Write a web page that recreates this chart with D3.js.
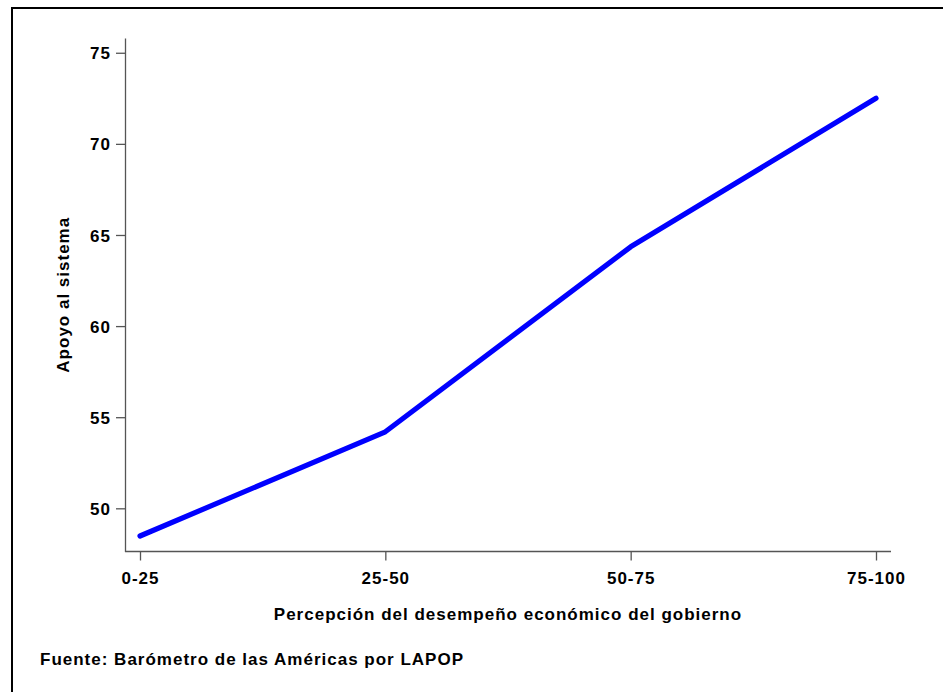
<!DOCTYPE html>
<html>
<head>
<meta charset="utf-8">
<script src="https://cdn.jsdelivr.net/npm/d3@7"></script>
<style>
  html, body { margin: 0; padding: 0; background: #fff; }
  text { font-family: "Liberation Sans", Arial, Helvetica, sans-serif; font-weight: bold; fill: #000; }
</style>
</head>
<body>
<svg id="chart" width="943" height="692"></svg>
<script>
const categories = ["0-25", "25-50", "50-75", "75-100"];
const values = [48.48, 54.2, 64.35, 72.5];
const yTicks = [50, 55, 60, 65, 70, 75];
const xTitle = "Percepción del desempeño económico del gobierno";
const yTitle = "Apoyo al sistema";
const source = "Fuente: Barómetro de las Américas por LAPOP";

const svg = d3.select("#chart");

// outer frame (top and left edges visible)
svg.append("line").attr("x1", 12).attr("x2", 943).attr("y1", 8).attr("y2", 8)
  .attr("stroke", "#000").attr("stroke-width", 2);
svg.append("line").attr("x1", 12).attr("x2", 12).attr("y1", 7).attr("y2", 692)
  .attr("stroke", "#000").attr("stroke-width", 2);

const mLeft = 125, mRight = 891, mTop = 38, mBottom = 551.5;

const x = d3.scalePoint().domain(categories).range([140, 876]);
const y = d3.scaleLinear().domain([47.63, 75.81]).range([mBottom, mTop]);

const axisColor = "#555";
const fs = 17;

// y axis
const gy = svg.append("g").attr("transform", `translate(${mLeft},0)`)
  .call(d3.axisLeft(y).tickValues(yTicks).tickSize(9).tickPadding(5).tickSizeOuter(0));
gy.select(".domain").attr("stroke", axisColor).attr("stroke-width", 1.3);
gy.selectAll(".tick line").attr("stroke", axisColor).attr("stroke-width", 1.3);
gy.selectAll(".tick text").attr("font-size", fs).attr("fill", "#000")
  .style("letter-spacing", "1px").attr("dy", "0.36em");

// x axis line spanning full plot width
svg.append("line").attr("x1", mLeft).attr("x2", mRight).attr("y1", mBottom).attr("y2", mBottom)
  .attr("stroke", axisColor).attr("stroke-width", 1.3);
const gx = svg.append("g").attr("transform", `translate(0,${mBottom})`)
  .call(d3.axisBottom(x).tickSize(9).tickPadding(11).tickSizeOuter(0));
gx.select(".domain").remove();
gx.selectAll(".tick line").attr("stroke", axisColor).attr("stroke-width", 1.3);
gx.selectAll(".tick text").attr("font-size", fs).attr("fill", "#000")
  .style("letter-spacing", "1px");

// line
const line = d3.line().x((d, i) => x(categories[i])).y(d => y(d));
svg.append("path").datum(values).attr("d", line)
  .attr("fill", "none").attr("stroke", "#0000ff").attr("stroke-width", 5.2)
  .attr("stroke-linecap", "round").attr("stroke-linejoin", "round");

// titles
svg.append("text").attr("x", (mLeft + mRight) / 2).attr("y", 620)
  .attr("text-anchor", "middle").attr("font-size", fs).style("letter-spacing", "1px")
  .text(xTitle);
svg.append("text").attr("transform", `translate(69,${(mTop + mBottom) / 2}) rotate(-90)`)
  .attr("text-anchor", "middle").attr("font-size", fs).style("letter-spacing", "1px")
  .text(yTitle);
svg.append("text").attr("x", 40).attr("y", 665)
  .attr("font-size", fs).style("letter-spacing", "1px")
  .text(source);
</script>
</body>
</html>
